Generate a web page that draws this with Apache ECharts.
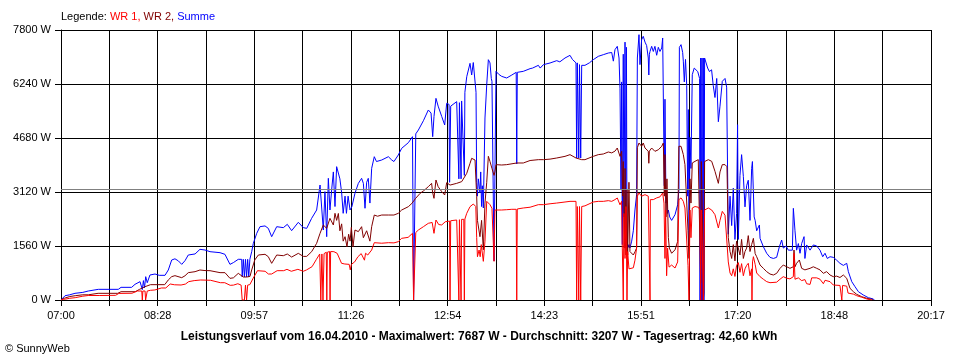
<!DOCTYPE html>
<html><head><meta charset="utf-8">
<script src="https://cdn.jsdelivr.net/npm/echarts@6/dist/echarts.min.js"></script>
<style>html,body{margin:0;padding:0;background:#fff}#c{width:960px;height:360px}</style>
</head><body><div id="c"></div>
<script>
// minutes after 07:00, watts
const xTickLabels = ["07:00","08:28","09:57","11:26","12:54","14:23","15:51","17:20","18:48","20:17"];
const yMaxW = 7800, yStepW = 1560;
const spanMinutes = 797; // 07:00 .. 20:17
const averageW = 3207;
const titleText = "Leistungsverlauf vom 16.04.2010 - Maximalwert: 7687 W - Durchschnitt: 3207 W - Tagesertrag: 42,60 kWh";

const wr1 = [[0,0],[2,20],[4,25],[8,50],[13,67],[20,110],[25,130],[35,130],[50,135],[53,190],[65,195],[70,260],[74,260],[74.5,0],[75,260],[77,260],[77.5,0],[78.5,0],[79,260],[82,280],[86,290],[92,347],[96,347],[100,462],[104,440],[110,433],[114,460],[117,530],[122,560],[128,578],[137,570],[146,500],[150,500],[155,424],[158,430],[162,470],[165,430],[166,0],[168,0],[169,430],[170,0],[171,430],[173,445],[176,626],[180,847],[187,830],[190,751],[193,751],[198,847],[204,847],[207,886],[211,830],[217,886],[222,830],[225,870],[230,963],[234,1175],[237,1329],[238,0],[239,1330],[240,0],[241,1340],[243,1380],[243.5,0],[244,1380],[246,1400],[246.5,0],[247,1400],[250,1396],[253,1348],
[254,1348],[257,1060],[260,1040],[264,1030],[265,870],[266,1030],[269,1100],[272,1250],[275,1340],[278,1150],[279,1350],[281,1300],[284.6,1444],[287,1656],[293.8,1640],[300,1656],[305,1650],[309,1685],[312,1781],[318,1810],[322,1926],[323,0],[324,0],[325,1950],[327.4,2022],[332,2118],[336.5,2215],[340,2240],[341.7,1926],[343.5,2311],[346,2180],[348.8,2168],[352,2260],[353.3,2311],[356,2280],[356.4,0],[357,2290],[362.5,2311],[364,2320],[364.5,0],[365,2320],[366.5,0],[367,2330],[369,2330],[369.5,0],[370,2340],[371.7,2504],[374.7,2696],[377.7,2773],[380,2700],[380.8,1800],[381.5,1250],[383,1444],[384,1250],[385,1600],[386.9,1117],[388.4,1700],[390,2850],[391.5,2850],[393,2754],[394.8,2650],[396,2600],[396.7,1117],[397.5,2600],[398.5,2609],[403.7,2600],[408.3,2609],[413,2620],[417,2620],[417.5,0],[418,2630],[423.5,2658],[429.7,2680],[437.3,2754],[442,2754],[448,2780],[454,2800],[461.7,2831],[466.3,2850],[471.8,2850],[472.4,0],[473,2700],[474.3,0],[475,2700],[476.1,0],[477,2700],[480,2720],[487.6,2831],[492.2,2850],[496.8,2850],[501.4,2870],[504.5,2850],[507.5,2900],[509.6,2947],
[510.6,2947],[512.1,2750],[513.6,2850],[514.2,1500],[515.1,0],[515.7,2500],[516.7,1200],[517.6,2700],[518.5,0],[519.1,1400],[520.3,900],[521.2,920],[524.3,930],[525.8,1150],[527.3,1500],[528,3000],[529.5,3091],[531.9,3000],[535,3043],[538,3000],[539.3,2950],[539.6,0],[539.9,2900],[542.6,2900],[545.7,2950],[548.7,2980],[551.2,3091],[552.4,2800],[553.3,1200],[553.9,2600],[554.8,700],[555.7,1500],[557,950],[559.4,1010],[562.5,924],[564.9,1100],[566.1,2900],[568,2950],[570.1,2850],[571.6,2658],[573.2,2700],[574.4,1000],[575.3,0],[576.2,2600],[577.1,1800],[578.3,2658],[580.8,2700],[583.8,2680],[585.4,2600],[586,0],[586.6,2600],[587.5,1500],[588.4,0],[589,0],[589.6,2600],[593,2658],[596.1,2600],[599.1,2465],[602.2,2080],[603.7,2300],[605.8,2560],[608.3,2450],[610.1,2500],[611.3,1100],[612.9,780],[614.4,700],[615.9,900],[617.4,680],[618.9,1000],[620.5,1080],[622,800],[623.5,1050],[625.1,700],[626.6,900],[628.1,1000],[629.6,1060],[631.2,700],[632.7,900],
[633,0],[633.5,1100],[634.3,1252],[635.9,1030],[637.3,780],[640.4,674],[643.4,600],[646.5,530],[649.5,500],[655.6,515],[658.7,600],[661.7,674],[664.8,630],[667.8,610],[670.9,674],[671.5,1348],[672.4,600],[675.5,640],[678.5,560],[681.5,590],[683.1,470],[686.2,450],[687.7,640],[692.3,640],[695.3,600],[698.4,470],[699.9,570],[704.5,530],[707.5,433],[713.6,420],[715,400],[715.3,0],[716,420],[719.8,400],[721,200],[722.8,241],[725.9,170],[728.9,125],[733.5,80],[738.1,30],[742.6,0]];

const wr2 = [[0,0],[3,50],[8,100],[13,124],[20,150],[25,150],[34,193],[52,193],[55,240],[68,240],[72,308],[77,385],[82,443],[95,443],[98.3,580],[101.4,674],[104.4,703],[110.6,645],[113.6,700],[116.6,790],[122.8,818],[127.3,867],[131.9,850],[136.5,847],[145.7,790],[150.2,790],[154.8,626],[157.9,640],[162.4,770],[167,664],[170.1,664],[173.1,680],[174.7,867],[177.5,1156],[180.8,1300],[186.9,1320],[189.9,1252],[193,1059],[197.6,1300],[203.7,1280],[207.3,1329],[211.3,1240],[217.4,1348],[222,1260],[225.1,1260],[229.6,1396],[234.2,1637],[237.3,1926],[240.3,2167],[243.4,2070],[246.4,2359],[249.5,2167],[251,2504],[252.5,2300],
[254.1,2500],[255.5,2000],[257.1,2200],[258.5,1700],[260.2,1829],[262,1540],[263.5,1900],[264.8,1700],[266,2100],[267.5,1540],[269.3,2022],[272.4,1975],[275.4,2118],[277,1800],[278.5,1830],[280,2000],[281.5,2022],[283,1700],[284.6,2118],[287,2455],[290,2420],[293.8,2455],[299.9,2455],[305,2455],[309,2504],[312.1,2600],[318.2,2696],[321.5,2793],[324.9,2937],[329,3082],[332,3150],[336.5,3274],[339.5,3370],[340.5,3100],[341.7,2937],[343.5,3467],[345.5,3274],[348.8,3130],[351.5,3033],[353.3,3389],[356.4,3320],[362.5,3370],[367.1,3420],[371.7,3659],[374.7,3948],[376.2,4093],[379.3,4044],[380.8,3000],[381.5,2300],[383.8,1829],[385.3,2300],[386.9,1450],[388.4,2800],[390,3400],[391.5,4151],[393,4000],[394.8,3800],[396.7,3600],[397.5,3700],[398.5,3910],[403.7,3900],[408.3,3910],[417.5,3958],[423.5,3958],[429.7,4030],[437.3,4054],[441.9,4054],[448,4070],[454.1,4102],[461.7,4150],[466.3,4199],[471.8,4102],[477,4054],[480,4054],[487.6,4150],[492.2,4199],[496.8,4218],[501.4,4276],[504.5,4250],[507.5,4300],[509.6,4391],
[510.6,4391],[512.1,4150],[513.6,4295],[514.5,3000],[515.1,4000],[516.1,1500],[516.7,3800],[517.6,1300],[518.5,3200],[519.1,1300],[520.3,3400],[521.2,1400],[522.8,1350],[524.3,1300],[525.8,1390],[527.3,1500],[528,4400],[529.5,4536],[531.9,4440],[533.4,4536],[535,4390],[538,4300],[538.5,3950],[539,4300],[541.1,4390],[544.1,4295],[547.2,4340],[550.3,4440],[551.8,4536],[552.7,3000],[553.3,4200],[554.2,2400],[555.1,3500],[556.4,1800],[557.3,1500],[559.4,1350],[562.5,1450],[564.9,1690],[566,4440],[568,4440],[570.1,4200],[571.6,3910],[573.2,3958],[574.4,2000],[575.3,1200],[576.2,3500],[577.1,2800],[578.3,3958],[580.8,4006],[583.8,4054],[585.4,4000],[586,500],[586.6,4000],[587.5,2500],[588.4,0],[589,200],[589.6,4000],[593,4054],[596.1,4006],[599.1,3717],[602.2,3370],[603.7,3700],[605.8,3910],[608.3,3910],[610.1,3850],[611.3,1800],[612.9,1400],[614.4,1200],[615.9,1600],[617.4,1130],[618.9,1700],[620.5,1650],[622,1300],[623.5,1750],[625.1,1200],[626.6,1400],[628.1,1500],[629.6,1860],[631.2,1400],[632.7,1600],
[634.3,1781],[635.9,1340],[637.3,1250],[640.4,1011],[643.4,915],[646.5,818],[649.5,750],[652.6,722],[655.6,770],[658.7,915],[661.7,1011],[664.8,960],[667.8,915],[670.9,960],[671.5,1444],[672.4,960],[673.9,1060],[676.4,1156],[678.5,915],[681.5,870],[683.1,915],[686.2,915],[689.2,960],[692.3,915],[695.3,870],[698.4,770],[701.4,820],[704.5,722],[707.5,674],[710.6,690],[713.6,650],[716.7,722],[719.8,626],[722.8,337],[725.9,240],[728.9,164],[733.5,96],[738.1,50],[742.6,20],[744.2,0]];

const summe = [[0,0],[3.7,124],[8,150],[12.8,193],[20,220],[25,260],[34.2,308],[52.5,308],[55,366],[64.7,366],[67.8,453],[72.4,530],[74.5,300],[75.5,560],[76.5,350],[77.6,674],[79,500],[81.5,722],[86.1,751],[90,713],[95.3,713],[98.3,867],[101.4,1156],[104.4,1190],[107.5,1130],[110.6,1030],[113.6,1136],[116.6,1300],[122.8,1330],[127.3,1464],[131.9,1444],[136.5,1396],[145.7,1367],[150.2,1319],[154.8,1030],[157.9,1080],[162.4,1175],[165.5,1175],[166,664],[167,1175],[168,664],[169,1175],[170,664],[171,1175],[172,664],[173,1175],[174.7,1396],[176.2,1637],[179.3,1926],[182.3,2118],[186.9,2140],[189.9,2070],[193,1829],[197.6,2118],[203.7,2090],[207.3,2186],[211.3,2003],[217.4,2244],[222,2090],[225.1,2070],[229.6,2359],[234.2,2600],[237.3,3322],[238.8,3370],[240.3,2022],[241.8,3130],[243.4,1829],[244.9,3515],[246.4,2600],[248,3200],[249.5,3700],[251,2700],[252.5,3852],[254.1,3900],
[255.5,3500],[257.1,3100],[258.5,2504],[260.2,3000],[261.5,2504],[263,3000],[264.8,2600],[266.5,2700],[269.3,3082],[272.4,3370],[275.4,3515],[277,3370],[278.5,2650],[280,3400],[281.5,3515],[283,2800],[284.6,3804],[287,4140],[289,4000],[293.8,4044],[299.9,4140],[303,4044],[305,4000],[309,4189],[312.1,4382],[318.2,4545],[322,4718],[323,0],[324,0],[325,4800],[327.4,4911],[332,5180],[336.5,5489],[339,5400],[340.5,4718],[341.7,5300],[343.5,5826],[345.5,5600],[348.8,5300],[351.5,5056],[353.3,5682],[355.5,5650],[356,3400],[356.5,3370],[357,5600],[362.5,5730],[364,5700],[364.5,3500],[365,5700],[366.5,3500],[367,5750],[368.5,5800],[369.5,3600],[370,6000],[371.7,6451],[374.7,6837],[376.2,6500],[377.7,6860],[379.3,6837],[380.2,6000],[380.8,3400],[381.5,3000],[382.3,3500],[383.8,3100],[384.5,3700],[385.3,2700],[386,3300],[386.9,2658],[388.4,5258],[390,6220],[391.5,6942],[393,6850],[394.2,6400],[394.8,6317],[396.2,6270],[396.7,1127],[397.5,1127],[398.5,6606],[401,6520],[403.7,6461],[408.3,6413],[413,6500],[417,6577],[417.5,3929],[418,6577],[423.5,6606],[429.7,6683],[432,6700],[437.3,6779],[439,6700],[441.9,6798],[448,6847],[454.1,6914],[457,6880],[461.7,6991],[466.3,7068],[468.5,6950],[471.8,6850],[472.4,4102],[473,6850],[474.3,4102],[475,6800],[476.1,4102],[477,6779],[480,6779],[484,6850],[487.6,6942],[492.2,7039],[496.8,7087],[501.4,7135],[504.5,7150],[506,6900],[507.5,7232],[509.6,7328],
[510.6,7328],[511.2,6991],[512.1,6100],[513,3200],[513.6,6300],[514.2,1600],[515.1,7100],[515.7,2400],[516.7,7450],[517.3,1500],[518,7300],[518.5,1700],[519.1,1500],[520.3,1600],[521.2,1500],[522.8,1700],[524.3,2000],[525.8,2600],[527.3,3043],[528,6991],[529.5,7665],[530.4,6800],[531.9,7520],[533.4,7617],[535,7450],[536.5,7350],[538,6991],[538.5,6500],[539,7100],[539.6,7180],[541.1,7328],[542.6,7180],[544.1,7328],[545.7,7070],[547.2,7300],[548.7,7180],[550.3,7280],[551.2,7569],[552.1,7569],[552.7,3300],[553.3,5800],[554.2,2800],[554.8,3100],[555.5,2500],[556.4,2600],[557.6,2400],[559.4,2300],[562.5,2465],[564.9,2750],[566.1,3200],[566.5,7300],[568,7377],[569.5,7150],[570.1,6900],[571,6300],[572.1,6950],[573.2,6200],[574.1,3000],[574.7,5500],[575.3,1600],[576.2,4700],[577.1,3800],[578.3,6509],[580.1,6700],[581.7,6700],[583.3,6600],[585,6400],[585.4,0],[586,6990],[586.6,0],[587.2,6990],[587.8,0],[588.4,6990],[589,0],[589.6,6990],[591,6990],[592.4,6700],[594,6600],[596,6650],[597.5,6200],[599.1,5850],[600.7,6400],[602.2,5150],[603.7,5600],[605.8,6317],[607,6360],[608.3,6400],[609.8,6150],[611.3,1900],[612.9,3000],[614.4,2150],[615.9,3230],[617.4,1750],[618.9,2500],[619.8,5064],[620.5,1750],[622,3600],[623.5,4199],[625.1,3570],[626.6,2690],[628.1,3300],[629.6,3460],[631.2,2300],[632.7,3800],
[633.4,4000],[634.3,3958],[635,2400],[635.9,2300],[637.3,2000],[639.8,2167],[640.4,1781],[643.4,1541],[646.5,1348],[649.5,1232],[652.6,1200],[655.6,1232],[658.1,1540],[660.2,1733],[661.7,1500],[664.2,1560],[666.3,1440],[670,1440],[670.9,2648],[672.4,2000],[673.9,1440],[675.5,1630],[677,1350],[678.5,1630],[680.7,1830],[681.5,1200],[683.1,1590],[686.2,1440],[689.2,1590],[692.3,1560],[695.3,1440],[697.8,1250],[699.9,1350],[702,1200],[704.5,1250],[707.5,1232],[710.6,1150],[713.6,1059],[716.7,1000],[719.8,1059],[721.3,818],[724.4,530],[727.4,385],[730.5,240],[735,144],[739.6,67],[744.2,29],[745,0]];

// axis unit: 1/18 minute so that each grid step (797/18 min) is an integer
const U = 18;
const toAxis = arr => arr.map(p => [p[0] * U, p[1]]);
const xStep = spanMinutes; // = (spanMinutes/18) minutes * 18
const FONT = "Liberation Sans";

const chart = echarts.init(document.getElementById('c'), null, {renderer: 'canvas'});
const lineSeries = (name, data, color, z) => ({
  name, type: 'line', data: toAxis(data), showSymbol: false, symbol: 'none',
  lineStyle: {color, width: 1}, itemStyle: {color}, z, animation: false,
  emphasis: {disabled: true}
});
const s = lineSeries('Summe', summe, '#0000ff', 2);
s.markLine = {silent: true, symbol: 'none', label: {show: false},
  lineStyle: {color: '#808080', width: 1, type: 'solid'},
  data: [{yAxis: averageW}]};
chart.setOption({
  animation: false,
  backgroundColor: '#ffffff',
  grid: {left: 61, right: 29, top: 30, bottom: 60, containLabel: false},
  xAxis: {
    type: 'value', min: 0, max: spanMinutes * U, interval: xStep,
    axisLine: {show: true, lineStyle: {color: '#000', width: 1}},
    axisTick: {show: true, length: 6, lineStyle: {color: '#000'}},
    splitLine: {show: true, lineStyle: {color: '#000', width: 1}},
    axisLabel: {
      color: '#000', fontFamily: FONT, fontSize: 11, margin: 10,
      showMinLabel: true, showMaxLabel: true,
      formatter: v => { const i = Math.round(v / xStep); return i % 2 === 0 ? xTickLabels[i / 2] : ''; }
    }
  },
  yAxis: {
    type: 'value', min: 0, max: yMaxW, interval: yStepW,
    axisLine: {show: true, lineStyle: {color: '#000', width: 1}},
    axisTick: {show: true, length: 6, lineStyle: {color: '#000'}},
    splitLine: {show: true, lineStyle: {color: '#000', width: 1}},
    axisLabel: {color: '#000', fontFamily: FONT, fontSize: 11, margin: 10, formatter: v => String(Math.round(v)) + ' W'}
  },
  series: [s, lineSeries('WR 2', wr2, '#800000', 3), lineSeries('WR 1', wr1, '#ff0000', 4)],
  graphic: [
    {type: 'text', left: 61, top: 11, style: {
      text: '{k|Legende: }{a|WR 1, }{b|WR 2, }{c|Summe}', fontFamily: FONT, fontSize: 11,
      rich: {k: {fill: '#000', fontFamily: FONT, fontSize: 11}, a: {fill: '#ff0000', fontFamily: FONT, fontSize: 11},
             b: {fill: '#800000', fontFamily: FONT, fontSize: 11}, c: {fill: '#0000ff', fontFamily: FONT, fontSize: 11}}}},
    {type: 'text', x: 479, y: 337, style: {text: titleText, fill: '#000', fontFamily: FONT, fontSize: 12, fontWeight: 'bold', textAlign: 'center', textVerticalAlign: 'middle'}},
    {type: 'text', x: 5, y: 349, style: {text: '© SunnyWeb', fill: '#000', fontFamily: FONT, fontSize: 11, textAlign: 'left', textVerticalAlign: 'middle'}}
  ]
});
</script></body></html>
